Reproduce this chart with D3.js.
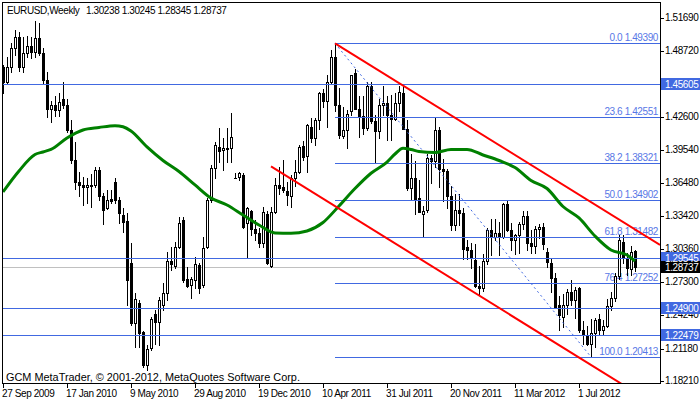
<!DOCTYPE html>
<html><head><meta charset="utf-8">
<script src="https://cdn.jsdelivr.net/npm/d3@7"></script>
<style>
body{margin:0;background:#fff;}
svg text{font-family:"Liberation Sans",Arial,sans-serif;}
</style>
</head><body>
<svg id="c" width="700" height="402"></svg>
<script>
// ---------------- DATA ----------------
const symbolLabel = "EURUSD,Weekly";
const headerValues = ["1.30238", "1.30245", "1.28345", "1.28737"];
const copyright = "GCM MetaTrader, \u00A9 2001-2012, MetaQuotes Software Corp.";

// weekly bars, bar 0 = week of 27 Sep 2009
const open = [
1.4720,1.4580,1.4720,1.4900,1.5000,1.4720,1.4850,1.4910,1.4860,1.4990,
1.4850,1.4600,1.4330,1.4370,1.4320,1.4420,1.4370,1.4140,1.3860,1.3660,
1.3630,1.3610,1.3630,1.3630,1.3770,1.3525,1.3420,1.3500,1.3657,1.3491,
1.3352,1.3300,1.2909,1.2355,1.2539,1.2271,1.1966,1.2123,1.2440,1.2365,
1.2520,1.2632,1.2930,1.2880,1.3057,1.3306,1.2761,1.2706,1.2752,1.2890,
1.2706,1.3057,1.3491,1.3787,1.3981,1.3953,1.3975,1.3971,1.3692,1.3704,
1.3722,1.3278,1.3390,1.3220,1.3190,1.3090,1.3360,1.2881,1.3380,1.3630,
1.3611,1.3574,1.3528,1.3690,1.3752,1.3990,1.3900,1.4166,1.4060,1.4230,
1.4482,1.4410,1.4584,1.4810,1.4370,1.4080,1.4140,1.4310,1.4660,1.4330,
1.4270,1.4160,1.4540,1.4220,1.4130,1.4370,1.4390,1.4280,1.4240,1.4390,
1.4477,1.4150,1.3600,1.3694,1.3510,1.3360,1.3400,1.3880,1.3850,1.4140,
1.3780,1.3760,1.3530,1.3260,1.3400,1.3370,1.3060,1.3030,1.2940,1.2700,
1.2680,1.2930,1.3210,1.3150,1.3190,1.3150,1.3450,1.3210,1.3120,1.3170,
1.3270,1.3340,1.3090,1.3070,1.3220,1.3240,1.3013,1.2909,1.2770,1.2520,
1.2410,1.2520,1.2640,1.2570,1.2680,1.2290,1.2240,1.2160,1.2265,1.2390,
1.2290,1.2330,1.2510,1.2585,1.2790,1.3106,1.2955,1.2850,1.30238];
const high = [
1.4740,1.4810,1.4940,1.5065,1.5040,1.5000,1.5010,1.5000,1.5145,1.5130,
1.4900,1.4670,1.4410,1.4450,1.4480,1.4580,1.4420,1.4230,1.4030,1.3750,
1.3700,1.3690,1.3730,1.3800,1.3800,1.3560,1.3580,1.3580,1.3694,1.3519,
1.3417,1.3371,1.3094,1.2632,1.2567,1.2281,1.2151,1.2410,1.2475,1.2595,
1.2724,1.3011,1.3057,1.3103,1.3334,1.3334,1.2872,1.2779,1.2964,1.2909,
1.3149,1.3509,1.3814,1.4027,1.4156,1.4064,1.4156,1.4295,1.3740,1.3750,
1.3741,1.3426,1.3400,1.3306,1.3232,1.3426,1.3390,1.3426,1.3694,1.3800,
1.3861,1.3657,1.3720,1.3860,1.4000,1.4035,1.4190,1.4250,1.4250,1.4490,
1.4520,1.4650,1.4880,1.4939,1.4530,1.4350,1.4320,1.4650,1.4700,1.4450,
1.4450,1.4580,1.4580,1.4280,1.4420,1.4540,1.4450,1.4460,1.4480,1.4540,
1.4550,1.4230,1.3920,1.3850,1.3680,1.3440,1.3920,1.3910,1.4249,1.4170,
1.3870,1.3780,1.3620,1.3550,1.3550,1.3420,1.3120,1.3090,1.3080,1.2880,
1.2990,1.3230,1.3320,1.3320,1.3290,1.3460,1.3486,1.3280,1.3180,1.3290,
1.3390,1.3390,1.3210,1.3250,1.3270,1.3280,1.3050,1.2950,1.2820,1.2600,
1.2620,1.2670,1.2750,1.2690,1.2690,1.2370,1.2330,1.2390,1.2405,1.2440,
1.2380,1.2580,1.2640,1.2820,1.3172,1.3170,1.3000,1.3070,1.30245];
const low = [
1.4480,1.4570,1.4670,1.4830,1.4680,1.4670,1.4810,1.4800,1.4810,1.4830,
1.4570,1.4260,1.4215,1.4270,1.4270,1.4340,1.4120,1.3835,1.3590,1.3530,
1.3445,1.3460,1.3430,1.3610,1.3490,1.3270,1.3410,1.3460,1.3463,1.3278,
1.3195,1.2521,1.2336,1.2133,1.2133,1.1948,1.1920,1.2105,1.2160,1.2151,
1.2475,1.2567,1.2844,1.2863,1.3048,1.2733,1.2687,1.2585,1.2680,1.2632,
1.2687,1.3048,1.3473,1.3694,1.3842,1.3768,1.3842,1.3842,1.3690,1.3676,
1.3232,1.2964,1.3168,1.3121,1.3057,1.3057,1.2903,1.2872,1.3370,1.3550,
1.3565,1.3445,1.3426,1.3620,1.3740,1.3860,1.3750,1.4030,1.4000,1.4150,
1.4350,1.4170,1.4560,1.4310,1.4060,1.4060,1.3968,1.4280,1.4330,1.4070,
1.4100,1.4140,1.4200,1.3837,1.4060,1.4280,1.4050,1.4050,1.4230,1.4310,
1.4150,1.3580,1.3500,1.3360,1.3380,1.3150,1.3380,1.3650,1.3800,1.3610,
1.3480,1.3420,1.3210,1.3210,1.3260,1.2950,1.2950,1.2860,1.2690,1.2624,
1.2650,1.2900,1.2980,1.3120,1.2980,1.3140,1.3200,1.3030,1.2990,1.3000,
1.3220,1.3030,1.3000,1.3000,1.3140,1.3040,1.2870,1.2640,1.2495,1.2288,
1.2320,1.2440,1.2520,1.2400,1.2270,1.2160,1.2150,1.2042,1.2135,1.2240,
1.2240,1.2320,1.2470,1.2560,1.2760,1.2910,1.2800,1.2800,1.28345];
const close = [
1.4580,1.4720,1.4900,1.5000,1.4720,1.4850,1.4910,1.4860,1.4985,1.4850,
1.4600,1.4330,1.4370,1.4320,1.4400,1.4370,1.4140,1.3860,1.3660,1.3630,
1.3610,1.3630,1.3620,1.3770,1.3525,1.3400,1.3490,1.3480,1.3491,1.3371,
1.3288,1.2752,1.2355,1.2576,1.2262,1.1966,1.2114,1.2391,1.2365,1.2567,
1.2632,1.2927,1.2900,1.3059,1.3279,1.2752,1.2696,1.2761,1.2900,1.2678,
1.3048,1.3491,1.3787,1.3999,1.3944,1.3971,1.3965,1.4073,1.3690,1.3741,
1.3241,1.3417,1.3220,1.3190,1.3090,1.3380,1.2910,1.3380,1.3630,1.3602,
1.3583,1.3537,1.3690,1.3750,1.3984,1.3890,1.4180,1.4060,1.4230,1.4482,
1.4410,1.4584,1.4810,1.4370,1.4090,1.4140,1.4290,1.4646,1.4330,1.4270,
1.4160,1.4540,1.4220,1.4130,1.4370,1.4390,1.4280,1.4240,1.4390,1.4490,
1.4150,1.3600,1.3694,1.3500,1.3380,1.3390,1.3879,1.3850,1.4140,1.3780,
1.3760,1.3530,1.3260,1.3400,1.3370,1.3040,1.3030,1.2955,1.2700,1.2680,
1.2930,1.3210,1.3150,1.3190,1.3150,1.3450,1.3210,1.3120,1.3170,1.3270,
1.3340,1.3090,1.3070,1.3220,1.3240,1.3080,1.2921,1.2770,1.2502,1.2430,
1.2520,1.2640,1.2570,1.2660,1.2290,1.2240,1.2160,1.2265,1.2385,1.2290,
1.2330,1.2510,1.2585,1.2790,1.3121,1.2960,1.2863,1.3011,1.28737];

// moving average (bar index, value)
const maBars = [0,4,8,10,12,16,20,24,28,30,32,36,40,44,48,52,56,60,64,68,72,76,80,84,88,92,96,98,100,102,104,108,112,116,120,124,128,132,136,140,144,148,152,156,158];
const maValues = [1.3565,1.3759,1.3911,1.3935,1.3958,1.4064,1.4138,1.4161,1.4178,1.4168,1.4129,1.3981,1.3856,1.3754,1.3630,1.3509,1.3445,1.3352,1.3260,1.3186,1.3183,1.3205,1.3283,1.3436,1.3597,1.3738,1.3842,1.3916,1.3969,1.3958,1.3939,1.3930,1.3958,1.3958,1.3907,1.3856,1.3791,1.3671,1.3597,1.3431,1.3325,1.3158,1.3029,1.2983,1.2927];

// x-axis labels
const xTickBars = [0,16,32,48,64,80,96,112,128,144];
const xTickLabels = ["27 Sep 2009","17 Jan 2010","9 May 2010","29 Aug 2010","19 Dec 2010","10 Apr 2011","31 Jul 2011","20 Nov 2011","11 Mar 2012","1 Jul 2012"];
// y-axis labels
const yTicks = [1.51690,1.48720,1.45660,1.42600,1.39540,1.36480,1.33420,1.30360,1.27300,1.24240,1.21180,1.18210];

// horizontal lines (with axis boxes)
const hLines = [1.45605, 1.29545, 1.24900, 1.22479];
const bidPrice = 1.28737;

// Fibonacci retracement
const fibStartBar = 83, fibEndBar = 147;
const fibLevels = [0.0, 23.6, 38.2, 50.0, 61.8, 76.4, 100.0];
const fibPrices = [1.49390, 1.42551, 1.38321, 1.34902, 1.31482, 1.27252, 1.20413];

// red channel trend lines: [bar, price] anchors
const upperLineBars = [83, 164.25];
const upperLinePrices = [1.4939, 1.3075];
const lowerLineBars = [67, 160];
const lowerLinePrices = [1.3801, 1.1669];

// ---------------- CHART ----------------
const svg = d3.select("#c");
const L = 3, R = 660, T = 2, B = 383;
const xs = d3.scaleLinear().domain([0, 164.25]).range([3, 660]);
const ys = d3.scaleLinear().domain([1.18001, 1.53205]).range([383, 2]);
const BLUE = "#4169E1";
const FS = "10px";

svg.append("rect").attr("width",700).attr("height",402).attr("fill","#fff");
svg.append("defs").append("clipPath").attr("id","clip")
  .append("rect").attr("x",L).attr("y",T+1).attr("width",R-L).attr("height",B-T-1);

const plot = svg.append("g").attr("clip-path","url(#clip)");

// Fib labels (under candles)
const fibIdx = d3.range(fibLevels.length);
plot.selectAll(".fibtxt").data(fibIdx).join("text")
  .attr("x", 658).attr("y", i => Math.round(ys(fibPrices[i])) - 2.5)
  .attr("text-anchor","end").attr("font-size",FS).attr("letter-spacing","-0.4px")
  .attr("fill","#5877E6")
  .text(i => fibLevels[i].toFixed(1) + " " + fibPrices[i].toFixed(5));

// bid line
plot.append("line").attr("x1",L).attr("x2",R)
  .attr("y1",Math.round(ys(bidPrice))+0.5).attr("y2",Math.round(ys(bidPrice))+0.5)
  .attr("stroke","#C0C0C0").attr("stroke-width",1);

// candles
const n = Math.min(open.length, high.length, low.length, close.length);
const idx = d3.range(n);
const cx = i => Math.round(xs(i));
plot.selectAll(".wick").data(idx).join("rect")
  .attr("x", i => cx(i)).attr("y", i => Math.round(ys(high[i])))
  .attr("width",1).attr("height", i => Math.round(ys(low[i])) - Math.round(ys(high[i])) + 1)
  .attr("fill","#000");
plot.selectAll(".body").data(idx).join("rect")
  .attr("x", i => cx(i)-1).attr("y", i => Math.round(ys(Math.max(open[i],close[i]))))
  .attr("width",3).attr("height", i => Math.max(1, Math.round(ys(Math.min(open[i],close[i]))) - Math.round(ys(Math.max(open[i],close[i]))) + 1))
  .attr("fill","#000");
plot.selectAll(".hollow").data(idx.filter(i => close[i] > open[i] &&
    Math.round(ys(open[i])) - Math.round(ys(close[i])) >= 2)).join("rect")
  .attr("x", i => cx(i)).attr("y", i => Math.round(ys(close[i])) + 1)
  .attr("width",1).attr("height", i => Math.round(ys(open[i])) - Math.round(ys(close[i])) - 1)
  .attr("fill","#fff");

// horizontal blue lines
plot.selectAll(".hl").data(hLines).join("line")
  .attr("x1",L).attr("x2",R)
  .attr("y1", p => Math.round(ys(p))+0.5).attr("y2", p => Math.round(ys(p))+0.5)
  .attr("stroke",BLUE).attr("stroke-width",1);

// fib lines
plot.selectAll(".fl").data(fibPrices).join("line")
  .attr("x1", Math.round(xs(fibStartBar))).attr("x2",R)
  .attr("y1", p => Math.round(ys(p))+0.5).attr("y2", p => Math.round(ys(p))+0.5)
  .attr("stroke",BLUE).attr("stroke-width",1);

// fib dotted trend
plot.append("line")
  .attr("x1", xs(fibStartBar)).attr("y1", ys(fibPrices[0]))
  .attr("x2", xs(fibEndBar)).attr("y2", ys(fibPrices[fibPrices.length-1]))
  .attr("stroke",BLUE).attr("stroke-width",1).attr("stroke-dasharray","2,3");

// moving average
const maPts = maBars.map((b,i) => [b, maValues[i]]);
plot.append("path").datum(maPts)
  .attr("d", d3.line().x(d => xs(d[0])).y(d => ys(d[1])).curve(d3.curveMonotoneX))
  .attr("fill","none").attr("stroke","#008000").attr("stroke-width",3);

// red channel
const trend = d3.line().x(d => xs(d[0])).y(d => ys(d[1]));
plot.append("path").datum(upperLineBars.map((b,i)=>[b, upperLinePrices[i]]))
  .attr("d", trend).attr("stroke","#FF0000").attr("stroke-width",2).attr("fill","none");
plot.append("path").datum(lowerLineBars.map((b,i)=>[b, lowerLinePrices[i]]))
  .attr("d", trend).attr("stroke","#FF0000").attr("stroke-width",2).attr("fill","none");

// header + copyright
svg.append("text").attr("x",7).attr("y",14).attr("font-size",FS).attr("letter-spacing","-0.4px")
  .attr("fill","#000").text(symbolLabel);
svg.append("text").attr("x",86).attr("y",14).attr("font-size",FS).attr("letter-spacing","-0.4px")
  .attr("fill","#000").text(headerValues.join(" "));
svg.append("text").attr("x",6).attr("y",381).attr("font-size","10.9px")
  .attr("fill","#000").text(copyright);

// frame
svg.append("rect").attr("x",2.5).attr("y",2.5).attr("width",658).attr("height",381)
  .attr("fill","none").attr("stroke","#000").attr("stroke-width",1);

// y axis ticks + labels
const ya = svg.append("g");
ya.selectAll("line").data(yTicks).join("line")
  .attr("x1",661).attr("x2",664)
  .attr("y1", p => Math.round(ys(p))+0.5).attr("y2", p => Math.round(ys(p))+0.5)
  .attr("stroke","#000");
ya.selectAll("text").data(yTicks).join("text")
  .attr("x",665).attr("y", p => Math.round(ys(p)) + 3)
  .attr("font-size",FS).attr("letter-spacing","-0.4px").attr("fill","#000")
  .text(p => p.toFixed(5));

// x axis ticks + labels
const xa = svg.append("g");
xa.selectAll("line").data(xTickBars).join("line")
  .attr("x1", b => Math.round(xs(b))+0.5).attr("x2", b => Math.round(xs(b))+0.5)
  .attr("y1",384).attr("y2",388).attr("stroke","#000");
xa.selectAll("text").data(xTickBars).join("text")
  .attr("x", b => Math.round(xs(b)) - 1).attr("y",396.5)
  .attr("font-size",FS).attr("letter-spacing","-0.4px").attr("fill","#000")
  .text((b,i) => xTickLabels[i]);

// axis boxes
const boxes = hLines.map(p => ({p, bg: BLUE})).concat([{p: bidPrice, bg: "#000"}]);
const bx = svg.append("g");
bx.selectAll("rect").data(boxes).join("rect")
  .attr("x",661).attr("y", d => Math.round(ys(d.p)) - 6).attr("width",39).attr("height",12)
  .attr("fill", d => d.bg);
bx.selectAll("text").data(boxes).join("text")
  .attr("x",665).attr("y", d => Math.round(ys(d.p)) + 4)
  .attr("font-size",FS).attr("letter-spacing","-0.4px").attr("fill","#fff")
  .text(d => d.p.toFixed(5));
</script>
</body></html>
